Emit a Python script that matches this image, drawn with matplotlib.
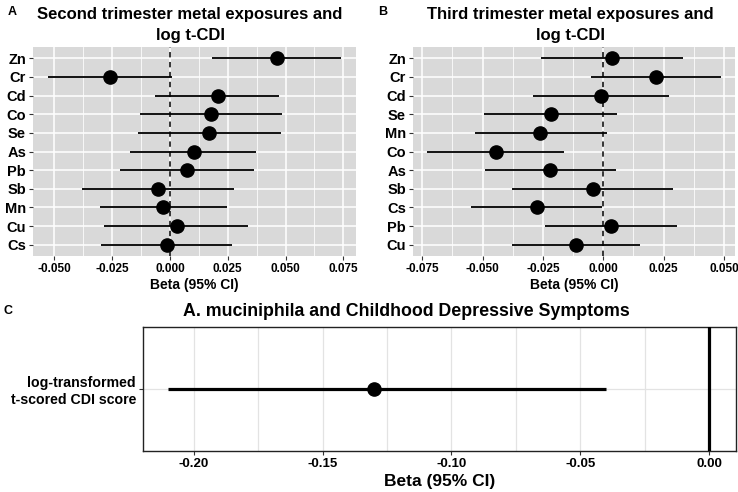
import matplotlib
matplotlib.use("Agg")
import matplotlib.pyplot as plt
import numpy as np
from matplotlib.ticker import FixedLocator

plt.rcParams['font.family'] = ['Liberation Sans', 'DejaVu Sans']
plt.rcParams['font.weight'] = 'bold'

# Panel A: second trimester
metals_a = ["Zn", "Cr", "Cd", "Co", "Se", "As", "Pb", "Sb", "Mn", "Cu", "Cs"]
beta_a = [0.0461, -0.0260, 0.0206, 0.0176, 0.0169, 0.0104, 0.0074, -0.0050, -0.0030, 0.0029, -0.0014]
lo_a = [0.0182, -0.0529, -0.0063, -0.0128, -0.0140, -0.0173, -0.0216, -0.0381, -0.0304, -0.0284, -0.0298]
hi_a = [0.0738, 0.0007, 0.0473, 0.0483, 0.0479, 0.0373, 0.0363, 0.0277, 0.0245, 0.0336, 0.0267]
ticks_a = [-0.050, -0.025, 0.000, 0.025, 0.050, 0.075]

# Panel B: third trimester
metals_b = ["Zn", "Cr", "Cd", "Se", "Mn", "Co", "As", "Sb", "Cs", "Pb", "Cu"]
beta_b = [0.0037, 0.0218, -0.0008, -0.0218, -0.0260, -0.0445, -0.0220, -0.0043, -0.0276, 0.0033, -0.0113]
lo_b = [-0.0258, -0.0051, -0.0290, -0.0493, -0.0532, -0.0728, -0.0491, -0.0377, -0.0546, -0.0242, -0.0377]
hi_b = [0.0329, 0.0486, 0.0271, 0.0057, 0.0015, -0.0162, 0.0055, 0.0290, -0.0007, 0.0304, 0.0152]
ticks_b = [-0.075, -0.050, -0.025, 0.000, 0.025, 0.050]

# Panel C
outcome_c = ["log-transformed\nt-scored CDI score"]
beta_c = [-0.13]
lo_c = [-0.21]
hi_c = [-0.04]
ticks_c = [-0.20, -0.15, -0.10, -0.05, 0.00]

W, H = 738, 492
fig = plt.figure(figsize=(W / 100, H / 100), dpi=100)

def rect(x0, y0, x1, y1):
    return [x0 / W, 1 - y1 / H, (x1 - x0) / W, (y1 - y0) / H]

def metal_panel(ax, metals, beta, lo, hi, ticks, xlim, title, title_x):
    n = len(metals)
    y = np.arange(n)
    ax.set_facecolor('#d9d9d9')
    for s in ax.spines.values():
        s.set_visible(False)
    step = ticks[1] - ticks[0]
    minor = [t + step / 2 for t in [ticks[0] - step] + ticks]
    ax.xaxis.set_major_locator(FixedLocator(ticks))
    ax.xaxis.set_minor_locator(FixedLocator(minor))
    ax.set_yticks(y)
    ax.set_yticklabels(metals)
    ax.grid(True, which='major', color='white', lw=1.1)
    ax.grid(True, which='minor', axis='x', color='white', lw=0.55)
    ax.set_axisbelow(True)
    ax.hlines(y, lo, hi, color='black', lw=1.3, zorder=3)
    ax.plot(beta, y, 'o', color='black', ms=9.5, zorder=4)
    ax.axvline(0, color='black', lw=1.1, ls=(0, (3.5, 3)), zorder=3)
    ax.set_xlim(*xlim)
    ax.set_ylim(n - 1 + 0.6, -0.6)
    ax.set_xticklabels([f"{t:.3f}" for t in ticks])
    ax.tick_params(axis='x', which='minor', length=0)
    ax.tick_params(axis='both', which='major', length=3, width=0.8, color='#333333', pad=2)
    ax.tick_params(axis='y', labelsize=10.5, labelcolor='black')
    ax.tick_params(axis='x', labelsize=8.5, labelcolor='black')
    ax.set_xlabel("Beta (95% CI)", fontsize=10, fontweight='bold', labelpad=2)
    fig.text(title_x / W, 1 - 7 / H, title, ha='center', va='top', fontsize=12,
             fontweight='bold', linespacing=1.5)

axA = fig.add_axes(rect(33, 47, 356, 256))
metal_panel(axA, metals_a, beta_a, lo_a, hi_a, ticks_a, (-0.0593, 0.0805),
            "Second trimester metal exposures and\nlog t-CDI", 190)
axB = fig.add_axes(rect(413, 47, 735, 256))
metal_panel(axB, metals_b, beta_b, lo_b, hi_b, ticks_b, (-0.0788, 0.0546),
            "Third trimester metal exposures and\nlog t-CDI", 570)

axC = fig.add_axes(rect(143, 327, 736, 451))
axC.set_facecolor('white')
for s in axC.spines.values():
    s.set_color('#222222')
    s.set_linewidth(1.0)
yc = np.arange(len(outcome_c))
axC.xaxis.set_major_locator(FixedLocator(ticks_c))
axC.xaxis.set_minor_locator(FixedLocator([t + 0.025 for t in [-0.25] + ticks_c]))
axC.grid(True, which='both', color='#e3e3e3', lw=0.9)
axC.set_axisbelow(True)
axC.hlines(yc, lo_c, hi_c, color='black', lw=2.3, zorder=3)
axC.plot(beta_c, yc, 'o', color='black', ms=9.5, zorder=4)
axC.axvline(0, color='black', lw=2.3, zorder=3)
axC.set_xlim(-0.2198, 0.0105)
axC.set_ylim(-0.6, 0.6)
axC.set_yticks(yc)
axC.set_yticklabels(outcome_c, fontsize=10.2, fontweight='bold')
axC.set_xticklabels([f"{t:.2f}" for t in ticks_c])
axC.tick_params(axis='x', which='minor', length=0)
axC.tick_params(axis='both', which='major', length=3, width=0.8, color='#333333', pad=2)
axC.tick_params(axis='x', labelsize=9.5)
axC.set_xlabel("Beta (95% CI)", fontsize=12.5, fontweight='bold', labelpad=3)
fig.text(406 / W, 1 - 311 / H, "A. muciniphila and Childhood Depressive Symptoms",
         ha='center', va='center', fontsize=12.8, fontweight='bold')

fig.text(8 / W, 1 - 12 / H, "A", ha='left', va='center', fontsize=9, fontweight='bold')
fig.text(378 / W, 1 - 12 / H, "B", ha='left', va='center', fontsize=9, fontweight='bold')
fig.text(4 / W, 1 - 311 / H, "C", ha='left', va='center', fontsize=9, fontweight='bold')

fig.savefig("out.png", dpi=100)
